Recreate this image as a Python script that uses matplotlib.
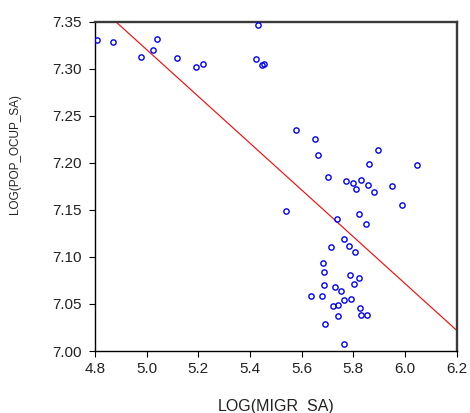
import numpy as np
import matplotlib
matplotlib.use("Agg")
import matplotlib.pyplot as plt
from matplotlib.ticker import FormatStrFormatter

plt.rcParams['font.family'] = ['Liberation Sans', 'DejaVu Sans']

# scatter points
migr = [4.809, 4.871, 4.979, 5.026, 5.039, 5.116, 5.192, 5.217, 5.430, 5.423,
        5.453, 5.448,
        5.578, 5.650, 5.663, 5.896, 5.862, 6.047, 5.703, 5.773, 5.797, 5.831,
        5.855, 5.809, 5.879, 5.951, 5.987, 5.539, 5.823, 5.738,
        5.849, 5.765, 5.782, 5.713, 5.807, 5.684, 5.687, 5.786, 5.823, 5.686,
        5.730, 5.751, 5.802, 5.635, 5.678, 5.720, 5.740, 5.762, 5.791, 5.827,
        5.739, 5.831, 5.853, 5.689, 5.765]
pop_ocup = [7.331, 7.328, 7.312, 7.320, 7.332, 7.311, 7.302, 7.305, 7.347, 7.310,
            7.305, 7.304,
            7.235, 7.225, 7.208, 7.214, 7.199, 7.198, 7.185, 7.181, 7.179, 7.182,
            7.176, 7.172, 7.169, 7.175, 7.155, 7.149, 7.146, 7.140,
            7.135, 7.119, 7.112, 7.111, 7.105, 7.094, 7.084, 7.081, 7.078, 7.070,
            7.068, 7.064, 7.071, 7.058, 7.058, 7.048, 7.049, 7.054, 7.055, 7.046,
            7.037, 7.038, 7.038, 7.029, 7.007]

# regression line end points
fit_x = [4.80, 6.20]
fit_y = [7.370, 7.022]

x_ticks = [4.8, 5.0, 5.2, 5.4, 5.6, 5.8, 6.0, 6.2]
y_ticks = [7.00, 7.05, 7.10, 7.15, 7.20, 7.25, 7.30, 7.35]

fig = plt.figure(figsize=(4.70, 4.13), dpi=100)
ax = fig.add_axes([0.2021, 0.150, 0.7696, 0.7975])

ax.plot(fit_x, fit_y, color='red', lw=0.8, zorder=2)
ax.plot(migr, pop_ocup, ls='none', marker='o', ms=3.8, mfc='none',
        mec='blue', mew=1.0, zorder=3)

ax.set_xlim(4.8, 6.2)
ax.set_ylim(7.00, 7.35)
ax.set_xticks(x_ticks)
ax.set_yticks(y_ticks)
ax.xaxis.set_major_formatter(FormatStrFormatter('%.1f'))
ax.yaxis.set_major_formatter(FormatStrFormatter('%.2f'))
ax.tick_params(direction='out', length=4.5, width=0.8, labelsize=11,
               colors='black', labelcolor='#222222')
ax.tick_params(axis='x', pad=3.5)
ax.tick_params(axis='y', pad=5)

for side in ['left', 'bottom']:
    ax.spines[side].set_color('black')
    ax.spines[side].set_linewidth(1.0)
for side in ['top', 'right']:
    ax.spines[side].set_color('#3a3a3a')
    ax.spines[side].set_linewidth(1.7)

ax.set_xlabel('LOG(MIGR_SA)', fontsize=11.5, color='#222222')
ax.xaxis.set_label_coords(0.5, -0.146)
ax.set_ylabel('LOG(POP_OCUP_SA)', fontsize=8.5, color='#222222')
ax.yaxis.set_label_coords(-0.205, 0.597)

fig.savefig('out.png', dpi=100)
